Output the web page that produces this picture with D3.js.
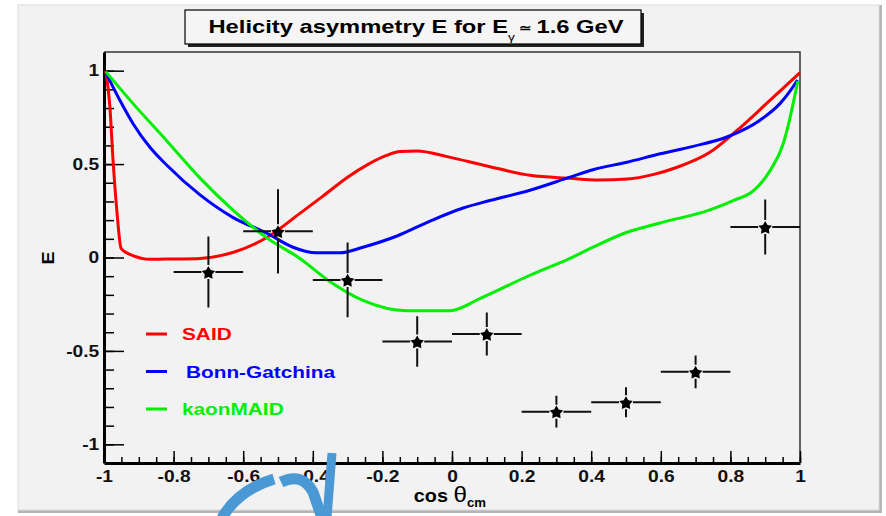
<!DOCTYPE html>
<html>
<head>
<meta charset="utf-8">
<script src="https://cdn.jsdelivr.net/npm/d3@7"></script>
<style>
  body { margin: 0; background: #fff; }
  svg { display: block; font-family: "Liberation Sans", Arial, sans-serif; }
</style>
</head>
<body>
<div id="chart"></div>
<script>
// measured points (cos theta, E) with errors
const pointCos = [-0.7, -0.5, -0.3, -0.1, 0.1, 0.3, 0.5, 0.7, 0.9];
const pointE = [-0.078, 0.14, -0.12, -0.45, -0.41, -0.825, -0.775, -0.612, 0.163];
const pointErrE = [0.19, 0.225, 0.2, 0.135, 0.115, 0.085, 0.08, 0.088, 0.147];
const pointErrCos = [0.1, 0.1, 0.1, 0.1, 0.1, 0.1, 0.1, 0.1, 0.1];

// model curves
const saidCos = [-0.995, -0.983, -0.974, -0.963, -0.951, -0.935, -0.917, -0.868, -0.8, -0.724, -0.63, -0.532, -0.437, -0.37, -0.3, -0.24, -0.19, -0.149, -0.1, -0.014, 0.1, 0.224, 0.339, 0.42, 0.503, 0.58, 0.647, 0.741, 0.819, 0.905, 1.0];
const saidE = [1.0, 0.805, 0.52, 0.25, 0.05, 0.025, 0.01, -0.01, -0.008, -0.005, 0.027, 0.107, 0.236, 0.33, 0.43, 0.5, 0.545, 0.567, 0.57, 0.54, 0.49, 0.44, 0.424, 0.415, 0.42, 0.445, 0.483, 0.563, 0.68, 0.826, 0.99];

const bonnCos = [-0.995, -0.983, -0.954, -0.916, -0.868, -0.82, -0.724, -0.63, -0.532, -0.457, -0.39, -0.322, -0.256, -0.158, -0.063, 0.032, 0.109, 0.224, 0.339, 0.405, 0.503, 0.598, 0.693, 0.79, 0.885, 0.943, 0.975, 0.993];
const bonnE = [0.99, 0.945, 0.84, 0.715, 0.59, 0.495, 0.335, 0.215, 0.13, 0.055, 0.025, 0.025, 0.055, 0.115, 0.195, 0.265, 0.305, 0.36, 0.43, 0.47, 0.51, 0.555, 0.595, 0.645, 0.735, 0.825, 0.9, 0.95];

const kaonCos = [-0.995, -0.917, -0.82, -0.724, -0.63, -0.532, -0.437, -0.35, -0.256, -0.13, -0.006, 0.08, 0.224, 0.339, 0.405, 0.503, 0.598, 0.741, 0.808, 0.865, 0.914, 0.951, 0.971, 0.986, 0.994];
const kaonE = [0.995, 0.825, 0.625, 0.425, 0.255, 0.105, -0.005, -0.13, -0.23, -0.285, -0.285, -0.22, -0.095, -0.005, 0.055, 0.135, 0.185, 0.255, 0.305, 0.355, 0.465, 0.605, 0.745, 0.875, 0.945];

const legendNames = ['SAID', 'Bonn-Gatchina', 'kaonMAID'];
const legendColors = ['#ff0000', '#0000ff', '#00ee00'];

const xMajor = [-1, -0.8, -0.6, -0.4, -0.2, 0, 0.2, 0.4, 0.6, 0.8, 1];
const yMajor = [-1, -0.5, 0, 0.5, 1];

const width = 886, height = 516;
const stretch = 'scale(1.2,1)'; // the original fonts look wide

const svg = d3.select('#chart').append('svg')
  .attr('width', width)
  .attr('height', height);

// pad with shadow
svg.append('rect').attr('x', 18).attr('y', 5).attr('width', 864).attr('height', 508)
  .attr('fill', '#b4b4b4');
svg.append('rect').attr('x', 18).attr('y', 5).attr('width', 861).attr('height', 505)
  .attr('fill', '#f2f2f2').attr('stroke', '#dcdcdc').attr('stroke-width', 1);

const x = d3.scaleLinear().domain([-1, 1]).range([104, 800]);
const y = d3.scaleLinear().domain([-1.1, 1.1]).range([463, 52]);

// frame top + right
svg.append('path')
  .attr('d', `M${x(-1)},${y(1.1)}H${x(1)}V${y(-1.1)}`)
  .attr('fill', 'none').attr('stroke', '#333').attr('stroke-width', 1.5);

const fmt = d => String(+d.toFixed(1));

// minor ticks
svg.append('g')
  .attr('transform', `translate(0,${y(-1.1)})`)
  .call(d3.axisBottom(x).tickValues(d3.range(-20, 21).map(i => i * 0.05)).tickSize(-6).tickFormat(''))
  .call(g => g.select('.domain').remove())
  .call(g => g.selectAll('line').attr('stroke-width', 1.5));
svg.append('g')
  .attr('transform', `translate(${x(-1)},0)`)
  .call(d3.axisLeft(y).tickValues(d3.range(-10, 11).map(i => i * 0.1)).tickSize(-10).tickFormat(''))
  .call(g => g.select('.domain').remove())
  .call(g => g.selectAll('line').attr('stroke-width', 1.5));

// major axes
const xAxis = svg.append('g')
  .attr('transform', `translate(0,${y(-1.1)})`)
  .call(d3.axisBottom(x).tickValues(xMajor).tickSizeInner(-12).tickSizeOuter(0).tickPadding(8).tickFormat(fmt));
const yAxis = svg.append('g')
  .attr('transform', `translate(${x(-1)},0)`)
  .call(d3.axisLeft(y).tickValues(yMajor).tickSizeInner(-20).tickSizeOuter(0).tickPadding(4).tickFormat(fmt));

[xAxis, yAxis].forEach(ax => {
  ax.select('.domain').attr('stroke', '#000').attr('stroke-width', 3);
  ax.selectAll('.tick line').attr('stroke-width', 1.5);
  ax.selectAll('.tick text')
    .attr('font-family', '"Liberation Sans", Arial, sans-serif')
    .attr('font-size', 16).attr('font-weight', 'bold').attr('fill', '#111')
    .attr('transform', stretch);
});

// curves
const line = d3.line()
  .x(d => x(d[0]))
  .y(d => y(d[1]))
  .curve(d3.curveMonotoneX);

const curves = [
  d3.zip(saidCos, saidE),
  d3.zip(bonnCos, bonnE),
  d3.zip(kaonCos, kaonE)
];
curves.forEach((pts, i) => {
  svg.append('path')
    .attr('d', line(pts))
    .attr('fill', 'none')
    .attr('stroke', legendColors[i])
    .attr('stroke-width', 3);
});

// fat five point star like the ROOT marker
const fatStar = {
  draw(context, size) {
    const r = Math.sqrt(size) / 2;
    for (let i = 0; i < 10; i++) {
      const a = -Math.PI / 2 + i * Math.PI / 5;
      const rr = i % 2 ? r * 0.55 : r;
      if (i === 0) context.moveTo(rr * Math.cos(a), rr * Math.sin(a));
      else context.lineTo(rr * Math.cos(a), rr * Math.sin(a));
    }
    context.closePath();
  }
};

// data points with error bars
const gap = 7;
const pts = svg.selectAll('g.pt')
  .data(pointCos.map((c, i) => ({ c, e: pointE[i], de: pointErrE[i], dc: pointErrCos[i] })))
  .enter().append('g').attr('class', 'pt');

pts.append('path')
  .attr('d', d => {
    const cx = x(d.c), cy = y(d.e);
    return `M${x(d.c - d.dc)},${cy}H${cx - gap}M${cx + gap},${cy}H${x(d.c + d.dc)}` +
      `M${cx},${y(d.e + d.de)}V${cy - gap}M${cx},${cy + gap}V${y(d.e - d.de)}`;
  })
  .attr('stroke', '#111').attr('stroke-width', 2).attr('fill', 'none');

pts.append('path')
  .attr('d', d3.symbol().type(fatStar).size(200))
  .attr('transform', d => `translate(${x(d.c)},${y(d.e) + 1})`)
  .attr('fill', '#000');

// legend
const legend = svg.selectAll('g.leg')
  .data(legendNames)
  .enter().append('g')
  .attr('transform', (d, i) => `translate(146,${334 + i * 37.5})`);
legend.append('line')
  .attr('x1', 0).attr('x2', 21)
  .attr('stroke', (d, i) => legendColors[i]).attr('stroke-width', 3);
legend.append('text')
  .attr('transform', (d, i) => `translate(${i === 1 ? 40 : 36},6) scale(1.3,1)`)
  .attr('font-size', 16).attr('font-weight', 'bold')
  .attr('fill', (d, i) => legendColors[i])
  .text(d => d);

// axis titles
svg.append('text')
  .attr('transform', 'translate(48,258) rotate(-90) scale(1.15,1)')
  .attr('text-anchor', 'middle').attr('dy', '0.35em')
  .attr('font-size', 17).attr('font-weight', 'bold')
  .text('E');

const xt = svg.append('text')
  .attr('transform', 'translate(486,502) scale(1.1,1)')
  .attr('text-anchor', 'end').attr('font-weight', 'bold');
xt.append('tspan').attr('font-size', 18).text('cos ');
xt.append('tspan').attr('font-size', 22).attr('font-weight', 'normal').text('θ');
xt.append('tspan').attr('font-size', 12).attr('dy', 5).text('cm');

// title box
svg.append('rect').attr('x', 188).attr('y', 13).attr('width', 456).attr('height', 34).attr('fill', '#222');
svg.append('rect').attr('x', 185).attr('y', 10).attr('width', 456).attr('height', 34)
  .attr('fill', '#f5f5f5').attr('stroke', '#000').attr('stroke-width', 1.2);
const title = svg.append('text')
  .attr('transform', 'translate(416,33) scale(1.25,1)')
  .attr('text-anchor', 'middle').attr('font-weight', 'bold').attr('font-size', 19);
title.append('tspan').text('Helicity asymmetry E  for E');
title.append('tspan').attr('font-size', 11).attr('font-weight', 'normal').attr('dy', 8).text('γ');
title.append('tspan').attr('font-size', 12).attr('dy', -9).text(' ≃ ');
title.append('tspan').attr('dy', 1).text('1.6 GeV');

// watermark strokes at the bottom
const mark = svg.append('g').attr('fill', 'none').attr('stroke', '#4a98d4').attr('stroke-width', 11);
mark.append('path').attr('d', 'M222,518 Q238,490 274,479');
mark.append('path').attr('d', 'M281,482 Q302,472 313,492 L322,518');
mark.append('path').attr('d', 'M332,453 L327,518').attr('stroke-width', 9);
</script>
</body>
</html>
